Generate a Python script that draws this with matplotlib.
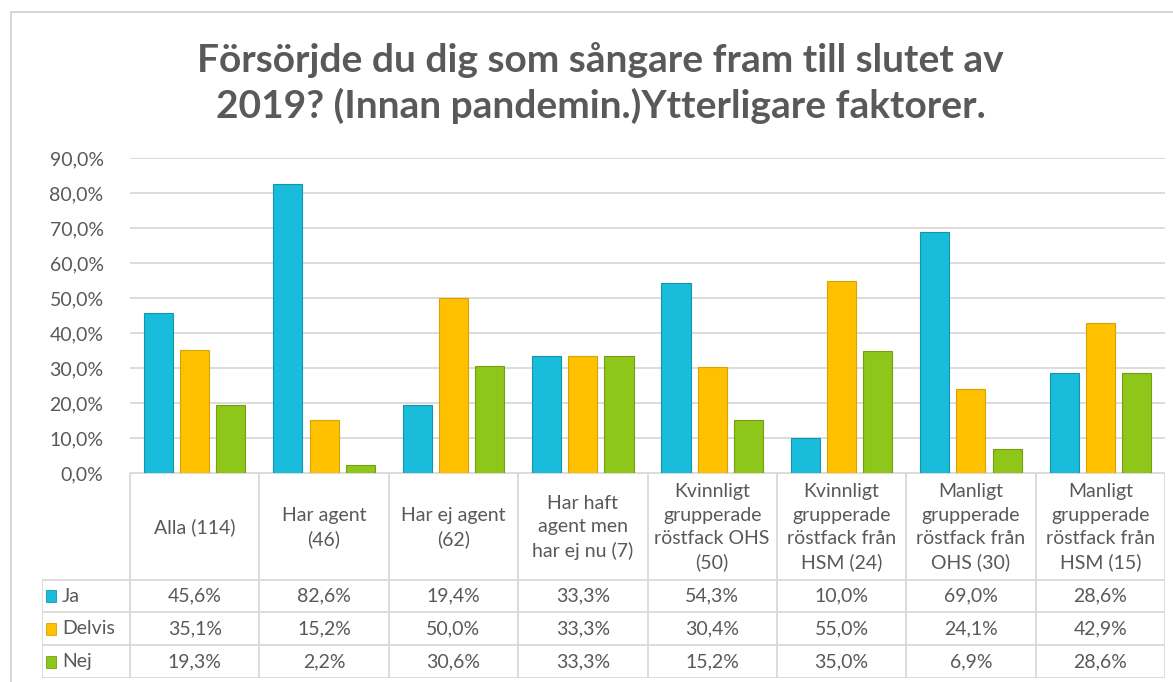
import numpy as np
import matplotlib
matplotlib.use("Agg")
import matplotlib.pyplot as plt
from matplotlib.patches import Rectangle

# data
categories = ["Alla (114)", "Har agent\n(46)", "Har ej agent\n(62)",
              "Har haft\nagent men\nhar ej nu (7)",
              "Kvinnligt\ngrupperade\nröstfack OHS\n(50)",
              "Kvinnligt\ngrupperade\nröstfack från\nHSM (24)",
              "Manligt\ngrupperade\nröstfack från\nOHS (30)",
              "Manligt\ngrupperade\nröstfack från\nHSM (15)"]
series_names = ["Ja", "Delvis", "Nej"]
ja = [45.6, 82.6, 19.4, 33.3, 54.3, 10.0, 69.0, 28.6]
delvis = [35.1, 15.2, 50.0, 33.3, 30.4, 55.0, 24.1, 42.9]
nej = [19.3, 2.2, 30.6, 33.3, 15.2, 35.0, 6.9, 28.6]
yticks = [0, 10, 20, 30, 40, 50, 60, 70, 80, 90]

colors = ["#1ABCDC", "#FFC000", "#8FC61A"]
edges = ["#1594AE", "#D9A200", "#72A010"]
txt = "#595959"
grid = "#D9D9D9"

plt.rcParams["font.family"] = ["Lato", "DejaVu Sans"]

W, H = 1173, 682
fig = plt.figure(figsize=(W / 100, H / 100), dpi=100)

def fx(px):
    return px / W

def fy(py):
    return 1 - py / H

# outer chart border
fig.add_artist(Rectangle((fx(11), fy(700)), fx(1200), fy(12) - fy(700),
                         transform=fig.transFigure, fill=False,
                         edgecolor="#D0D0D0", lw=1.2))

fig.text(0.512, fy(60), "Försörjde du dig som sångare fram till slutet av",
         ha="center", va="center", fontsize=28, fontweight="bold", color=txt)
fig.text(0.512, fy(106), "2019? (Innan pandemin.)Ytterligare faktorer.",
         ha="center", va="center", fontsize=28, fontweight="bold", color=txt)

# bar axes
x0, x1 = 130, 1165
ytop, ybot = 158, 473
ax = fig.add_axes([fx(x0), fy(ybot), fx(x1) - fx(x0), fy(ytop) - fy(ybot)])
n = len(categories)
x = np.arange(n)
bw = 0.225
step = 0.28
for k, vals in enumerate([ja, delvis, nej]):
    ax.bar(x + (k - 1) * step, vals, width=bw, color=colors[k],
           edgecolor=edges[k], linewidth=0.8, zorder=3)
ax.set_xlim(-0.5, n - 0.5)
ax.set_ylim(0, 90)
ax.set_yticks(yticks)
ax.set_yticklabels([f"{v:.1f}%".replace(".", ",") for v in yticks],
                   fontsize=14, color=txt)
ax.tick_params(axis="y", length=0, pad=19)
ax.set_xticks([])
ax.yaxis.grid(True, color=grid, lw=1.3, zorder=0)
for s in ax.spines.values():
    s.set_visible(False)

# data table
lc = 42
rows = [580, 612, 645, 678]
tab = fig.add_axes([fx(lc), fy(678), fx(x1) - fx(lc), fy(ybot) - fy(678)])
colw = (x1 - x0) / n
tab.set_xlim(-0.5 - (x0 - lc) / colw, n - 0.5)
tab.set_ylim(678, ybot)
tab.axis("off")
lk = dict(color=grid, lw=1.3, solid_capstyle="butt")
tab.plot([-0.5, n - 0.5], [ybot, ybot], **lk)
for r in rows:
    tab.plot([-0.5 - (x0 - lc) / colw, n - 0.5], [r, r], **lk)
for i in range(n + 1):
    tab.plot([i - 0.5, i - 0.5], [ybot, 678], **lk)
tab.plot([-0.5 - (x0 - lc) / colw] * 2, [rows[0], 678], **lk)

for i, c in enumerate(categories):
    tab.text(i, (ybot + rows[0]) / 2 + 1, c, ha="center", va="center",
             fontsize=14, color=txt, linespacing=1.45)
for k, vals in enumerate([ja, delvis, nej]):
    yc = (rows[k] + rows[k + 1]) / 2
    lx = -0.5 - (x0 - lc) / colw + 0.03
    tab.add_patch(Rectangle((lx, yc - 6), 0.08, 12, facecolor=colors[k],
                            edgecolor=edges[k], lw=0.6))
    tab.text(lx + 0.125, yc, series_names[k], ha="left", va="center",
             fontsize=14, color=txt)
    for i, v in enumerate(vals):
        tab.text(i, yc, f"{v:.1f}%".replace(".", ","), ha="center",
                 va="center", fontsize=14, color=txt)

fig.savefig("out.png", dpi=100)
